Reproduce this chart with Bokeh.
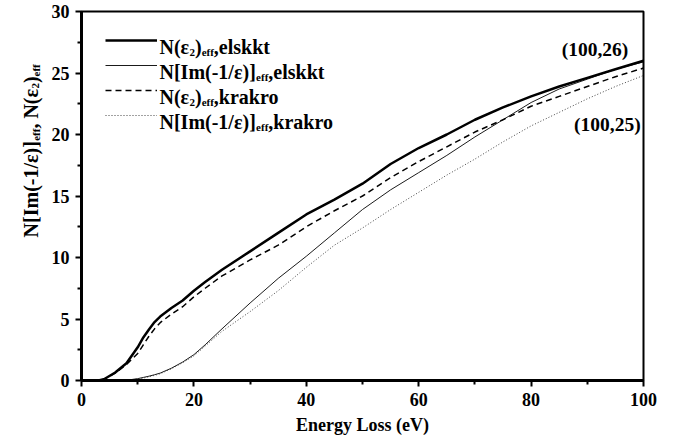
from math import pi
from bokeh.plotting import figure
from bokeh.layouts import row
from bokeh.models import Range1d, FixedTicker, Label, Legend, LegendItem
from bokeh.embed import file_html
from bokeh.resources import INLINE

# ---------------- data ----------------
energy = [0, 3, 4, 6, 8, 10, 11, 12, 13, 14, 16, 18, 20, 22, 25, 30, 35, 40, 45, 50,
          55, 60, 65, 70, 75, 80, 85, 90, 95, 100]
n_eps2_elskkt = [0, 0, 0.1, 0.65, 1.4, 2.7, 3.5, 4.15, 4.75, 5.2, 5.9, 6.5, 7.3, 8.0, 9.0,
                 10.5, 12.0, 13.5, 14.7, 16.0, 17.6, 18.9, 20.0, 21.2, 22.2,
                 23.1, 23.9, 24.6, 25.3, 26.0]
n_loss_elskkt = [0, 0, 0, 0, 0.02, 0.15, 0.25, 0.35, 0.47, 0.6, 1.0, 1.5, 2.1, 2.9, 4.2,
                 6.3, 8.3, 10.1, 12.0, 13.9, 15.5, 16.9, 18.3, 19.8, 21.2,
                 22.6, 23.7, 24.5, 25.3, 25.9]
n_eps2_krakro = [0, 0, 0.1, 0.6, 1.3, 2.2, 2.9, 3.6, 4.2, 4.7, 5.4, 6.0, 6.8, 7.5, 8.5,
                 9.8, 11.0, 12.5, 13.8, 15.0, 16.5, 17.8, 19.0, 20.2, 21.2,
                 22.3, 23.1, 23.9, 24.7, 25.4]
n_loss_krakro = [0, 0, 0, 0, 0.02, 0.12, 0.2, 0.3, 0.42, 0.55, 0.95, 1.45, 2.0, 2.8, 4.0,
                 5.6, 7.3, 9.2, 11.0, 12.4, 13.9, 15.3, 16.7, 18.0, 19.4,
                 20.7, 21.8, 22.9, 23.9, 24.8]

x_ticks = [0, 20, 40, 60, 80, 100]
x_minor = [10, 30, 50, 70, 90]
y_ticks = [0, 5, 10, 15, 20, 25, 30]
y_minor = [2.5, 7.5, 12.5, 17.5, 22.5, 27.5]

x_title = "Energy Loss (eV)"
end_labels = ["(100,26)", "(100,25)"]
end_label_x = [97.3, 99.5]
end_label_y = [26.87, 20.8]

FONT = "Liberation Serif"
W_TOTAL, H_TOTAL = 679, 441
YLAB_W = 45

# Times/Liberation Serif Bold advance widths (1/1000 em)
W = {'N': 722, '[': 333, ']': 333, 'I': 389, 'm': 833, '(': 333, ')': 333,
     '-': 333, '1': 500, '/': 278, 'ε': 444, ',': 250, ' ': 250, '2': 500,
     'e': 444, 'f': 333, 'l': 278, 's': 389, 'k': 556, 't': 333, 'r': 444,
     'a': 500, 'o': 500}


def tw(s, size):
    return sum(W.get(c, 500) for c in s) * size / 1000.0


def rich(fig, pieces, x0, y0, ox=0.0, oy=0.0, vertical=False, size=20,
         sub_size=11, sub_drop=5):
    pos = 0.0
    for txt, sub in pieces:
        fs = sub_size if sub else size
        if vertical:
            xo, yo, ang = ox + (sub_drop if sub else 0), oy + pos, pi / 2
        else:
            xo, yo, ang = ox + pos, oy - (sub_drop if sub else 0), 0
        fig.add_layout(Label(x=x0, y=y0, x_offset=xo, y_offset=yo, text=txt, angle=ang,
                             text_font=FONT, text_font_style="bold",
                             text_font_size=f"{fs}px", text_align="left",
                             text_baseline="alphabetic", text_color="black"))
        pos += tw(txt, fs)


eps2 = [("N(ε", False), ("2", True), (")", False), ("eff", True)]
loss = [("N[Im(-1/ε)]", False), ("eff", True)]

# ---------------- main plot ----------------
p = figure(width=W_TOTAL - YLAB_W, height=H_TOTAL, title=None,
           x_range=Range1d(0, 100), y_range=Range1d(0, 30),
           output_backend="svg", toolbar_location=None,
           min_border_left=81 - YLAB_W, min_border_right=W_TOTAL - 643,
           min_border_top=11, min_border_bottom=H_TOTAL - 380)

p.xgrid.visible = False
p.ygrid.visible = False
p.outline_line_color = "black"
p.outline_line_width = 2
p.outline_line_alpha = 1
p.background_fill_color = "white"
p.border_fill_color = "white"

for ax, tk, mn in ((p.xaxis, x_ticks, x_minor), (p.yaxis, y_ticks, y_minor)):
    ax.ticker = FixedTicker(ticks=tk, minor_ticks=mn)
    ax.axis_line_width = 3
    ax.axis_line_color = "black"
    ax.major_tick_line_width = 2
    ax.minor_tick_line_width = 2
    ax.major_tick_in = 0
    ax.major_tick_out = 6
    ax.minor_tick_in = 0
    ax.minor_tick_out = 4
    ax.major_label_text_font = FONT
    ax.major_label_text_font_style = "bold"
    ax.major_label_text_font_size = "18px"
    ax.major_label_text_color = "black"
    ax.major_label_standoff = 6

p.xaxis.axis_label = x_title
p.xaxis.axis_label_text_font = FONT
p.xaxis.axis_label_text_font_style = "bold"
p.xaxis.axis_label_text_font_size = "18px"
p.xaxis.axis_label_text_color = "black"
p.xaxis.axis_label_standoff = 6

r1 = p.line(energy, n_eps2_elskkt, line_color="black", line_width=2.5)
r2 = p.line(energy, n_loss_elskkt, line_color="black", line_width=0.9)
r3 = p.line(energy, n_eps2_krakro, line_color="black", line_width=1.5, line_dash="6 4")
r4 = p.line(energy, n_loss_krakro, line_color="#444444", line_width=1, line_dash="1 2")

legend = Legend(items=[LegendItem(label=" ", renderers=[r]) for r in (r1, r2, r3, r4)],
                location=(24, 255), orientation="vertical",
                glyph_width=52, glyph_height=20, label_height=20, label_width=1,
                spacing=5, padding=0, margin=0, label_standoff=0,
                label_text_font_size="8px",
                border_line_alpha=0, background_fill_alpha=0)
p.add_layout(legend, "center")

legend_rows = [eps2 + [(",elskkt", False)],
               loss + [(",elskkt", False)],
               eps2 + [(",krakro", False)],
               loss + [(",krakro", False)]]
row_centers = [40, 65, 90, 115]   # screen y of each legend row
for pieces, yc in zip(legend_rows, row_centers):
    rich(p, pieces, 0, 0, ox=159 - 81, oy=380 - (yc + 6.5))

for t, lx, ly in zip(end_labels, end_label_x, end_label_y):
    p.add_layout(Label(x=lx, y=ly, text=t, text_font=FONT, text_font_style="bold",
                       text_font_size="19.5px", text_align="right",
                       text_baseline="alphabetic", text_color="black"))

# ---------------- y-axis title strip (pixel coordinates) ----------------
q = figure(width=YLAB_W, height=H_TOTAL, title=None,
           x_range=Range1d(0, YLAB_W), y_range=Range1d(0, H_TOTAL),
           x_axis_type=None, y_axis_type=None,
           output_backend="svg", toolbar_location=None,
           min_border_left=0, min_border_right=0, min_border_top=0,
           min_border_bottom=0)
q.xgrid.visible = False
q.ygrid.visible = False
q.outline_line_color = None
q.background_fill_color = "white"
q.border_fill_color = "white"
rich(q, loss + [(", N(ε", False), ("2", True), (")", False), ("eff", True)],
     30, H_TOTAL - 270, vertical=True)

layout = row(q, p, spacing=0)
open("out.html", "w").write(file_html(layout, INLINE))
